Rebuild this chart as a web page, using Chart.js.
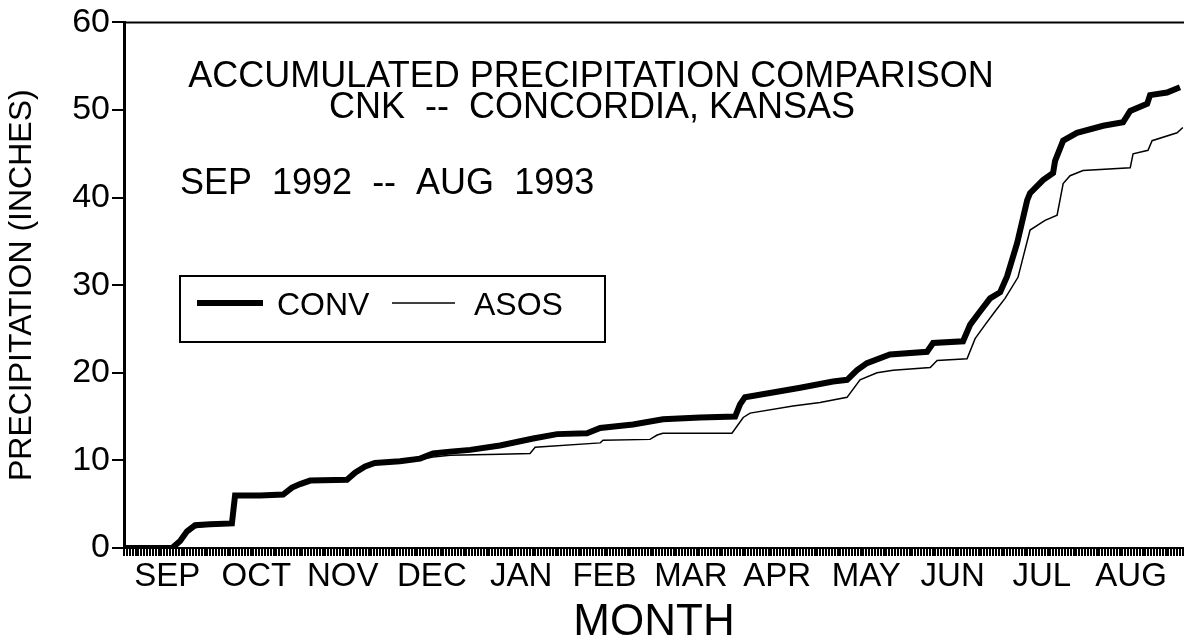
<!DOCTYPE html>
<html>
<head>
<meta charset="utf-8">
<script src="https://cdn.jsdelivr.net/npm/chart.js@4/dist/chart.umd.min.js"></script>
<style>
  html, body { margin: 0; padding: 0; background: #fff; overflow: hidden; }
</style>
</head>
<body>
<canvas id="chart" width="1184" height="644"></canvas>
<script>
// days counted from 1 Sep 1992, values in inches
var convDay = [0, 16.7, 19.5, 21.9, 24.7, 29.9, 37.5, 38.6, 47.3, 55.3, 58.4, 61.2, 64.7, 77.5, 80.3, 83.8, 87.2, 95.9, 102.9, 107.4,
    113.3, 120.3, 130.7, 142.2, 150.5, 160.9, 165.5, 176.9, 187.3, 200.2, 212.4, 214.1, 215.8, 228.0, 235.0, 246.4, 251.3, 254.8,
    258.2, 266.2, 279.1, 281.2, 291.6, 294.1, 297.5, 301.0, 304.5, 306.9, 310.4, 313.9, 314.9, 319.4, 322.9, 323.6, 326.4, 331.2,
    340.3, 347.2, 349.7, 355.6, 356.6, 362.5, 367.0];
var convIn = [0, 0, 0.8, 1.9, 2.6, 2.7, 2.8, 6.0, 6.0, 6.1, 6.9, 7.3, 7.7, 7.8, 8.6, 9.3, 9.7, 9.9, 10.2, 10.8,
    11.0, 11.2, 11.7, 12.5, 13.0, 13.1, 13.7, 14.1, 14.7, 14.9, 15.0, 16.4, 17.2, 17.9, 18.3, 19.0, 19.2, 20.3,
    21.1, 22.1, 22.4, 23.4, 23.6, 25.5, 27.0, 28.5, 29.2, 31.0, 34.8, 39.7, 40.5, 42.0, 42.8, 44.2, 46.5, 47.4,
    48.2, 48.6, 49.9, 50.7, 51.7, 52.0, 52.6];

var asosDay = [0, 16.7, 19.5, 21.9, 24.7, 29.9, 37.5, 38.6, 55.3, 58.4, 61.2, 64.7, 77.5, 80.3, 83.8, 87.2, 95.9, 102.9, 107.4,
    113.3, 130.7, 141.1, 142.9, 165.5, 166.5, 182.8, 185.3, 187.3, 211.3, 215.2, 217.6, 232.5, 241.9, 251.3, 255.8, 261.7,
    267.3, 280.2, 282.6, 293.0, 295.8, 299.3, 302.7, 306.2, 310.7, 314.9, 320.1, 324.3, 326.4, 328.8, 333.3, 349.7, 350.7,
    355.9, 357.3, 366.0, 368.0];
var asosIn = [0, 0, 0.6, 1.6, 2.3, 2.6, 2.7, 5.9, 6.0, 6.8, 7.2, 7.6, 7.7, 8.5, 9.2, 9.6, 9.8, 10.1, 10.4,
    10.6, 10.7, 10.8, 11.5, 12.0, 12.3, 12.4, 12.9, 13.1, 13.1, 14.9, 15.4, 16.2, 16.6, 17.2, 19.2, 20.0,
    20.3, 20.6, 21.4, 21.6, 23.9, 25.5, 27.0, 28.5, 30.9, 36.3, 37.4, 38.0, 41.6, 42.5, 43.1, 43.4, 45.0,
    45.4, 46.5, 47.4, 48.0];

var monthNames = ['SEP', 'OCT', 'NOV', 'DEC', 'JAN', 'FEB', 'MAR', 'APR', 'MAY', 'JUN', 'JUL', 'AUG'];
var monthMid = [15, 46, 76, 107, 138, 167, 197, 227, 258, 288, 319, 350];
var yTicks = [0, 10, 20, 30, 40, 50, 60];

var FONT = '"Liberation Sans", Arial, Helvetica, sans-serif';

function toPoints(xs, ys) {
    return xs.map(function (x, i) { return { x: x, y: ys[i] }; });
}

var textPlugin = {
    id: 'textPlugin',
    afterDraw: function (c) {
        var ctx = c.ctx;
        var a = c.chartArea;
        ctx.save();
        // frame top
        ctx.strokeStyle = '#000';
        ctx.lineWidth = 2;
        ctx.beginPath();
        ctx.moveTo(a.left, a.top);
        ctx.lineTo(a.right, a.top);
        ctx.stroke();

        ctx.fillStyle = '#000';
        ctx.textBaseline = 'alphabetic';
        ctx.textAlign = 'center';
        ctx.font = '36px ' + FONT;
        ctx.fillText('ACCUMULATED PRECIPITATION COMPARISON', 591, 87);
        ctx.fillText('CNK  --  CONCORDIA, KANSAS', 592, 118);
        ctx.textAlign = 'left';
        ctx.fillText('SEP  1992  --  AUG  1993', 180, 194);

        // legend box
        ctx.lineWidth = 2;
        ctx.strokeRect(180, 276, 425, 66);
        ctx.lineWidth = 6;
        ctx.beginPath();
        ctx.moveTo(197, 303);
        ctx.lineTo(263, 303);
        ctx.stroke();
        ctx.lineWidth = 1.5;
        ctx.beginPath();
        ctx.moveTo(392, 303);
        ctx.lineTo(455, 303);
        ctx.stroke();
        ctx.font = '32px ' + FONT;
        ctx.fillText('CONV', 277, 315);
        ctx.fillText('ASOS', 474, 315);
        ctx.restore();
    }
};

var ctx = document.getElementById('chart').getContext('2d');

var chart = new Chart(ctx, {
    type: 'line',
    data: {
        datasets: [
            {
                label: 'CONV',
                data: toPoints(convDay, convIn),
                borderColor: '#000',
                borderWidth: 6,
                pointRadius: 0,
                tension: 0,
                fill: false
            },
            {
                label: 'ASOS',
                data: toPoints(asosDay, asosIn),
                borderColor: '#000',
                borderWidth: 1.5,
                pointRadius: 0,
                tension: 0,
                fill: false
            }
        ]
    },
    options: {
        responsive: false,
        animation: false,
        layout: { padding: { top: 22, right: 0, left: 0, bottom: 0 } },
        plugins: {
            legend: { display: false },
            tooltip: { enabled: false }
        },
        scales: {
            x: {
                type: 'linear',
                min: 0,
                max: 368.4,
                afterBuildTicks: function (s) {
                    var t = [];
                    for (var i = 0; i <= 368; i++) t.push({ value: i });
                    s.ticks = t;
                },
                afterFit: function (s) { s.height = 96; },
                ticks: {
                    autoSkip: false,
                    maxRotation: 0,
                    minRotation: 0,
                    color: '#000',
                    padding: 1,
                    font: { family: FONT, size: 33 },
                    callback: function (v) {
                        var k = monthMid.indexOf(v);
                        return k >= 0 ? monthNames[k] : '';
                    }
                },
                grid: {
                    drawOnChartArea: false,
                    drawTicks: true,
                    tickLength: 8,
                    color: '#000',
                    lineWidth: 2
                },
                border: { display: true, color: '#000', width: 2 },
                title: {
                    display: true,
                    text: 'MONTH',
                    color: '#000',
                    font: { family: FONT, size: 44, lineHeight: 1.0 },
                    padding: { top: 0, bottom: -1 }
                }
            },
            y: {
                min: 0,
                max: 60,
                afterBuildTicks: function (s) {
                    s.ticks = yTicks.map(function (v) { return { value: v }; });
                },
                afterFit: function (s) { s.width = 124; },
                ticks: {
                    color: '#000',
                    padding: 2,
                    font: { family: FONT, size: 34 }
                },
                grid: {
                    drawOnChartArea: false,
                    drawTicks: true,
                    tickLength: 12,
                    color: '#000',
                    lineWidth: 2
                },
                border: { display: true, color: '#000', width: 3 },
                title: {
                    display: true,
                    text: 'PRECIPITATION (INCHES)',
                    color: '#000',
                    font: { family: FONT, size: 32 },
                    padding: { top: 3, bottom: 0 }
                }
            }
        }
    },
    plugins: [textPlugin]
});
</script>
</body>
</html>
